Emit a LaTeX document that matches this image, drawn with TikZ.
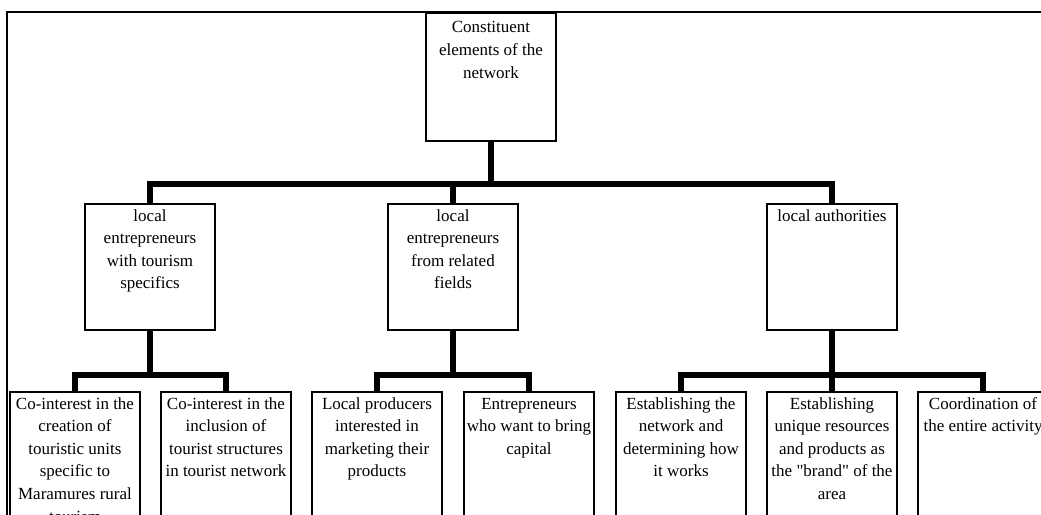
\documentclass[tikz,border=0pt]{standalone}
\usepackage{fontspec}
\setmainfont{Liberation Serif}
\newfontfamily\qfont{Liberation Serif}
\newcommand{\boxtxt}[2]{\parbox[t][#1][t]{130pt}{\centering\strut #2}}

\begin{document}
\begin{tikzpicture}[x=1pt,y=-1pt]
\tikzstyle{every node}+=[inner xsep=0pt,inner ysep=1.5pt,font=\fontsize{17}{22.6}\selectfont]
\tikzstyle{box}=[draw,line width=1.6pt,anchor=north]
\tikzstyle{link}=[line width=6pt,line join=miter]
\useasboundingbox (0,0) rectangle (1041,514);
\clip (0,0) rectangle (1041,514);
\draw [line width=1.6pt] (7,530) -- (7,12) -- (1060,12);
\node [box] (root) at (491,12) {\boxtxt{125pt}{\rule{0pt}{18.5pt}Constituent\\elements of the\\network}};
\node [box] (tour) at (150,203) {\boxtxt{123pt}{local\\entrepreneurs\\with tourism\\specifics}};
\node [box] (rel) at (453,203) {\boxtxt{123pt}{local\\entrepreneurs\\from related\\fields}};
\node [box] (auth) at (832,203) {\boxtxt{123pt}{local authorities}};
\node [box] (coint1) at (75,391) {\boxtxt{150pt}{Co-interest in the\\creation of\\touristic units\\specific to\\Maramures rural\\tourism}};
\node [box] (coint2) at (226,391) {\boxtxt{150pt}{Co-interest in the\\inclusion of\\tourist structures\\in tourist network}};
\node [box] (prod) at (377,391) {\boxtxt{150pt}{Local producers\\interested in\\marketing their\\products}};
\node [box] (capit) at (529,391) {\boxtxt{150pt}{Entrepreneurs\\who want to bring\\capital}};
\node [box] (estnet) at (681,391) {\boxtxt{150pt}{Establishing the\\network and\\determining how\\it works}};
\node [box] (brand) at (832,391) {\boxtxt{150pt}{Establishing\\unique resources\\and products as\\the {\qfont"}brand{\qfont"} of the\\area}};
\node [box] (coord) at (983,391) {\boxtxt{150pt}{Coordination of\\the entire activity}};
\coordinate (j0) at (491,184);
\coordinate (j1) at (150,375);
\coordinate (j2) at (453,375);
\coordinate (j3) at (832,375);
\draw [link] (root.south) -- (j0) -| (tour.north);
\draw [link] (j0) -| (rel.north);
\draw [link] (j0) -| (auth.north);
\draw [link] (tour.south) -- (j1) -| (coint1.north);
\draw [link] (j1) -| (coint2.north);
\draw [link] (rel.south) -- (j2) -| (prod.north);
\draw [link] (j2) -| (capit.north);
\draw [link] (auth.south) -- (j3) -- (brand.north);
\draw [link] (j3) -| (estnet.north);
\draw [link] (j3) -| (coord.north);
\end{tikzpicture}
\end{document}
